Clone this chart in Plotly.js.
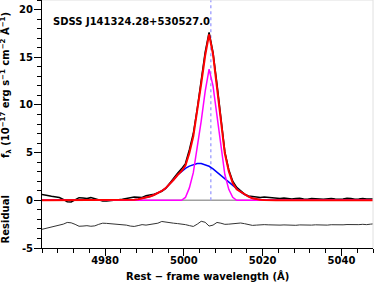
<!DOCTYPE html>
<html>
<head>
<meta charset="utf-8">
<script src="https://cdn.plot.ly/plotly-3.0.1.min.js"></script>
<style>html,body{margin:0;padding:0;background:#fff;}#chart{width:374px;height:282px;}</style>
</head>
<body>
<div id="chart"></div>
<script>
// Rest-frame wavelength grid (Angstrom)
const wave = [4963.4,4964.4,4965.4,4966.4,4967.4,4968.4,4969.4,4970.4,4971.4,4972.4,
  4973.4,4974.4,4975.4,4976.4,4977.4,4978.4,4979.4,4980.4,4981.4,4982.4,
  4983.4,4984.4,4985.4,4986.4,4987.4,4988.4,4989.4,4990.4,4991.4,4992.4,
  4993.4,4994.4,4995.4,4996.4,4997.4,4998.4,4999.4,5000.4,5001.4,5002.4,
  5003.4,5004.4,5005.4,5006.4,5007.4,5008.4,5009.4,5010.4,5011.4,5012.4,
  5013.4,5014.4,5015.4,5016.4,5017.4,5018.4,5019.4,5020.4,5021.4,5022.4,
  5023.4,5024.4,5025.4,5026.4,5027.4,5028.4,5029.4,5030.4,5031.4,5032.4,
  5033.4,5034.4,5035.4,5036.4,5037.4,5038.4,5039.4,5040.4,5041.4,5042.4,
  5043.4,5044.4,5045.4,5046.4,5047.4,5048.4];

// Observed flux (black)
const fluxObs = [0.65,0.6,0.5,0.42,0.37,0.3,0.1,-0.15,-0.18,0.05,
  0.28,0.25,0.2,0.28,0.15,0.02,-0.07,-0.08,-0.06,0.0,
  0.05,0.1,0.2,0.3,0.35,0.33,0.3,0.48,0.55,0.65,
  0.78,0.95,1.25,1.8,2.3,2.85,3.3,3.85,5.3,7.0,
  9.6,12.5,15.5,17.6,15.5,12.2,8.3,5.1,3.2,2.0,
  1.35,0.95,0.65,0.45,0.38,0.35,0.3,0.35,0.3,0.25,
  0.18,0.2,0.25,0.2,0.15,0.2,0.22,0.15,0.12,0.18,
  0.2,0.15,0.12,0.18,0.2,0.14,0.1,0.15,0.22,0.18,
  0.12,0.15,0.2,0.15,0.12,0.15];

// Total model (red)
const fluxModel = [0,0,0,0,0,0,0,0,0,0,
  0,0,0,0,0,0,0,0,0,0,
  0,0,0,0.03,0.06,0.11,0.18,0.28,0.4,0.56,
  0.75,0.98,1.28,1.68,2.15,2.65,3.05,3.65,4.95,6.7,
  9.25,12.2,15.15,17.4,15.3,11.95,8.1,4.9,3.05,1.82,
  1.15,0.88,0.6,0.38,0.22,0.12,0.06,0.03,0,0,
  0,0,0,0,0,0,0,0,0,0,
  0,0,0,0,0,0,0,0,0,0,
  0,0,0,0,0,0];

// Narrow [OIII] component (magenta)
const fluxNarrow = [0,0,0,0,0,0,0,0,0,0,
  0,0,0,0,0,0,0,0,0,0,
  0,0,0,0,0,0,0,0,0,0,
  0,0,0,0,0,0,0,0.3,1.3,2.9,
  5.4,8.3,11.4,13.76,12.0,9.0,5.5,2.7,1.15,0.32,
  0,0,0,0,0,0,0,0,0,0,
  0,0,0,0,0,0,0,0,0,0,
  0,0,0,0,0,0,0,0,0,0,
  0,0,0,0,0,0];

// Broad/wing component (blue)
const fluxBroad = [0,0,0,0,0,0,0,0,0,0,
  0,0,0,0,0,0,0,0,0,0,
  0,0,0,0.03,0.06,0.11,0.18,0.28,0.4,0.56,
  0.75,0.98,1.28,1.68,2.15,2.65,3.05,3.35,3.58,3.75,
  3.85,3.85,3.75,3.57,3.3,2.95,2.6,2.2,1.9,1.5,
  1.15,0.88,0.6,0.38,0.22,0.12,0.06,0.03,0,0,
  0,0,0,0,0,0,0,0,0,0,
  0,0,0,0,0,0,0,0,0,0,
  0,0,0,0,0,0];

// Residual (offset)
const residual = [-3.1,-3.0,-2.88,-2.8,-2.72,-2.65,-2.5,-2.32,-2.36,-2.52,
  -2.72,-2.7,-2.66,-2.72,-2.68,-2.52,-2.4,-2.42,-2.46,-2.5,
  -2.52,-2.54,-2.6,-2.7,-2.74,-2.65,-2.55,-2.6,-2.55,-2.5,
  -2.4,-2.22,-2.28,-2.4,-2.4,-2.44,-2.46,-2.55,-2.65,-2.74,
  -2.5,-2.2,-2.3,-2.7,-2.6,-2.32,-2.4,-2.52,-2.5,-2.44,
  -2.4,-2.38,-2.45,-2.58,-2.63,-2.6,-2.56,-2.55,-2.57,-2.6,
  -2.62,-2.6,-2.58,-2.6,-2.64,-2.62,-2.58,-2.6,-2.63,-2.6,
  -2.57,-2.58,-2.62,-2.6,-2.56,-2.58,-2.6,-2.57,-2.54,-2.56,
  -2.58,-2.55,-2.52,-2.55,-2.5,-2.46];

const lineCenter = 5006.84;
const objName = 'SDSS J141324.28+530527.0';
const xTicks = [4980, 5000, 5020, 5040];
const yTicks = [-5, 0, 5, 10, 15, 20];
const yTickText = ['-5', '0', '5', '10', '15', '20'];

const font = {family: 'DejaVu Sans', size: 10, color: '#000', weight: 'bold'};

const traces = [
  {x: wave, y: residual, mode: 'lines', line: {color: '#333', width: 1}, hoverinfo: 'skip'},
  {x: wave, y: fluxObs, mode: 'lines', line: {color: '#000', width: 1.5}, hoverinfo: 'skip'},
  {x: wave, y: fluxBroad, mode: 'lines', line: {color: '#0000ff', width: 1.5}, hoverinfo: 'skip'},
  {x: wave, y: fluxNarrow, mode: 'lines', line: {color: '#ff00ff', width: 1.5}, hoverinfo: 'skip'},
  {x: wave, y: fluxModel, mode: 'lines', line: {color: '#ff0000', width: 2}, hoverinfo: 'skip'}
];

const layout = {
  width: 374, height: 282,
  margin: {l: 42, r: 1, t: 0, b: 34, pad: 0},
  paper_bgcolor: '#fff', plot_bgcolor: '#fff',
  showlegend: false,
  font: font,
  xaxis: {
    range: [4964, 5048], tickvals: xTicks, ticks: 'outside', ticklen: 7, tickwidth: 1, tickcolor: '#000',
    showline: true, linecolor: '#000', linewidth: 1, showgrid: false, zeroline: false,
    tickfont: font, ticklabelstandoff: -4,
    minor: {dtick: 4, tick0: 4964, ticks: 'outside', ticklen: 4, tickwidth: 1, tickcolor: '#000', showgrid: false}
  },
  yaxis: {
    range: [-5, 21], tickvals: yTicks, ticktext: yTickText, ticks: 'outside', ticklen: 7, tickwidth: 1, tickcolor: '#000',
    showline: true, linecolor: '#000', linewidth: 1, showgrid: false, zeroline: false,
    tickfont: font, ticklabelstandoff: -1,
    minor: {dtick: 1, tick0: 0, ticks: 'outside', ticklen: 4, tickwidth: 1, tickcolor: '#000', showgrid: false}
  },
  shapes: [
    {type: 'line', xref: 'paper', yref: 'y', x0: 0, x1: 1, y0: 0, y1: 0, line: {color: '#a0a0a0', width: 1.5}, layer: 'below'},
    {type: 'line', xref: 'x', yref: 'y', x0: lineCenter, x1: lineCenter, y0: 0, y1: 21, line: {color: '#a8a8ff', width: 1.5, dash: 'dot'}, layer: 'below'},
    {type: 'line', xref: 'paper', yref: 'paper', x0: 0, x1: 1, y0: 1, y1: 1, line: {color: '#e0e0e0', width: 1}},
    {type: 'line', xref: 'paper', yref: 'paper', x0: 1, x1: 1, y0: 0, y1: 1, line: {color: '#e0e0e0', width: 1}}
  ],
  annotations: [
    {text: objName, xref: 'paper', yref: 'paper', x: 0.028, y: 0.912, xanchor: 'left', yanchor: 'middle', showarrow: false, font: font},
    {text: 'f<sub>λ</sub> (10<sup>−17</sup> erg s<sup>−1</sup> cm<sup>−2</sup> Å<sup>−1</sup>)', xref: 'paper', yref: 'paper', x: 0, y: 0.657, xshift: -36, xanchor: 'center', yanchor: 'middle', textangle: -90, showarrow: false, font: font},
    {text: 'Residual', xref: 'paper', yref: 'paper', x: 0, y: 0.115, xshift: -37, xanchor: 'center', yanchor: 'middle', textangle: -90, showarrow: false, font: font},
    {text: 'Rest − frame wavelength (Å)', xref: 'paper', yref: 'paper', x: 0.5, y: 0, yshift: -28, xanchor: 'center', yanchor: 'middle', showarrow: false, font: font}
  ]
};

Plotly.newPlot('chart', traces, layout, {staticPlot: true, displayModeBar: false});
</script>
</body>
</html>
